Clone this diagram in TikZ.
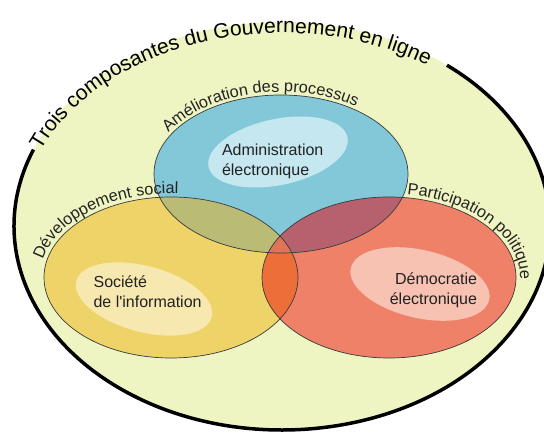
\documentclass[tikz,border=0pt]{standalone}
\usepackage{fontspec}
\setmainfont{Liberation Sans}
\usepackage{xcolor}
\usetikzlibrary{decorations.text}
\definecolor{outerfill}{HTML}{EEF5C2}
\definecolor{adminblue}{HTML}{82C8D8}
\definecolor{adminlight}{HTML}{C5E7EF}
\definecolor{socyellow}{HTML}{EDD368}
\definecolor{soclight}{HTML}{F6E8AE}
\definecolor{democred}{HTML}{EF8169}
\definecolor{democlight}{HTML}{F7C2B2}
\definecolor{olivemix}{HTML}{BABB75}
\definecolor{mauvemix}{HTML}{B8616E}
\definecolor{orangemix}{HTML}{EC6F3A}
\definecolor{triplemix}{HTML}{DE7558}
\definecolor{labeltext}{HTML}{222222}
\definecolor{vennedge}{HTML}{3A3A3A}

\newcommand{\outerset}{(282,207) ellipse [x radius=268, y radius=204]}
\newcommand{\adminset}{(281,259) ellipse [x radius=127, y radius=79]}
\newcommand{\socset}{(171,155.5) ellipse [x radius=127, y radius=80.5]}
\newcommand{\democset}{(389,155.5) ellipse [x radius=127, y radius=80.5]}

\tikzset{
  vennline/.style={draw=vennedge, line width=0.7pt},
  innerlabel/.style={font=\fontsize{16}{20}\selectfont, text=labeltext, inner sep=0pt},
  curvedlabel/.style={decorate, decoration={text along path, text color=labeltext,
    text={|\fontsize{16.3}{16}\selectfont|#1}}},
  titlelabel/.style={decorate, decoration={text along path, text color=black,
    text={|\fontsize{21}{24}\selectfont|#1}}}
}

\begin{document}
\begin{tikzpicture}[x=1pt, y=1pt]
\path[use as bounding box] (0,0) rectangle (544,433);
\clip (0,0) rectangle (544,433);

% outer set and its partial border
\fill[outerfill] \outerset;
\draw[line width=3.5pt] ([shift={(52:268 and 204)}]282,207) arc[start angle=52, end angle=-202, x radius=268, y radius=204];

% the three sets
\fill[socyellow] \socset;
\fill[democred] \democset;
\fill[adminblue] \adminset;
\begin{scope}
  \clip \adminset;
  \fill[olivemix] \socset;
  \fill[mauvemix] \democset;
\end{scope}
\begin{scope}
  \clip \socset;
  \fill[orangemix] \democset;
  \clip \democset;
  \fill[triplemix] \adminset;
\end{scope}
\path[vennline] \socset;
\path[vennline] \democset;
\path[vennline] \adminset;

% highlights
\fill[adminlight, rotate around={12:(278,281)}] (278,281) ellipse [x radius=71, y radius=33];
\fill[soclight, rotate around={-15:(144,134)}] (144,134) ellipse [x radius=70, y radius=33];
\fill[democlight, rotate around={-13:(420,149)}] (420,149) ellipse [x radius=71, y radius=34];

% labels
\node[innerlabel, align=left] (admin) at (272.7,272) {Administration\\électronique};
\node[innerlabel, align=left] (soc) at (147.6,141) {Société\\de l\textquotesingle information};
\node[innerlabel, align=right] (democ) at (433.4,142.7) {Démocratie\\électronique};

% curved labels
\path[titlelabel={Trois composantes du Gouvernement en ligne}]
  ([shift={(157:262 and 193)}]282,207) arc[start angle=157, end angle=40, x radius=262, y radius=193];
\path[curvedlabel={Amélioration des processus}]
  ([shift={(150:130 and 82)}]281,259) arc[start angle=150, end angle=30, x radius=130, y radius=82];
\path[curvedlabel={Développement social}]
  ([shift={(168:131 and 84)}]171,155.5) arc[start angle=168, end angle=60, x radius=131, y radius=84];
\path[curvedlabel={Participation politique}]
  ([shift={(82:131 and 84)}]389,155.5) arc[start angle=82, end angle=-20, x radius=131, y radius=84];
\end{tikzpicture}
\end{document}
